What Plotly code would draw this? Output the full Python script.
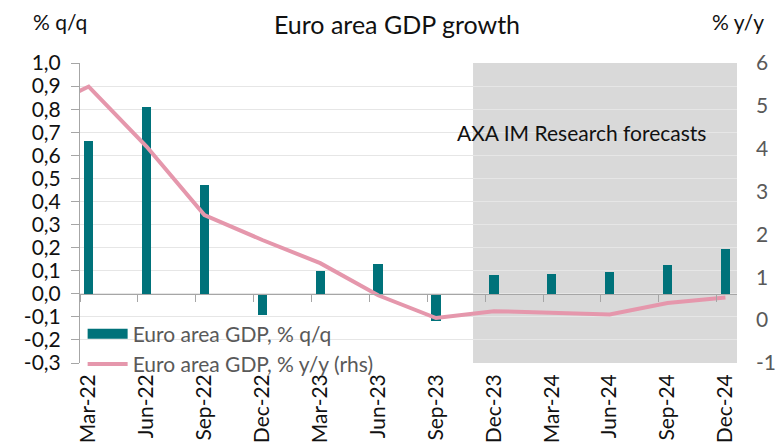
# Euro area GDP growth: q/q bars (lhs) and y/y line (rhs), forecast period shaded
import numpy as np
import plotly.graph_objects as go

quarters = ["Mar-22", "Jun-22", "Sep-22", "Dec-22", "Mar-23", "Jun-23",
            "Sep-23", "Dec-23", "Mar-24", "Jun-24", "Sep-24", "Dec-24"]
gdp_qq = [0.66, 0.81, 0.47, -0.09, 0.10, 0.13, -0.12, 0.08, 0.085, 0.095, 0.125, 0.195]

# y/y series starts one quarter earlier (Dec-21), its first segment is cut by the axis
yy_quarters = ["Dec-21"] + quarters
gdp_yy = [4.8, 5.45, 4.05, 2.45, 1.87, 1.33, 0.58, 0.05, 0.21, 0.18, 0.13, 0.40, 0.53]

forecast_start = "Dec-23"

left_ticks = [1.0, 0.9, 0.8, 0.7, 0.6, 0.5, 0.4, 0.3, 0.2, 0.1, 0.0, -0.1, -0.2, -0.3]
left_labels = ["1,0", "0,9", "0,8", "0,7", "0,6", "0,5", "0,4", "0,3", "0,2", "0,1",
               "0,0", "-0,1", "-0,2", "-0,3"]
right_ticks = [6, 5, 4, 3, 2, 1, 0, -1]
right_labels = ["6", "5", "4", "3", "2", "1", "0", "-1"]

TEAL = "#00727A"
PINK = "#E597AC"
SHADE = "#D9D9D9"
AXIS = "#A6A6A6"
FONT = "Lato"
FS = 21

SHIFT = 0.15          # points sit a little right of the quarter tick (Excel date axis)
idx = np.arange(len(quarters))
x_bar = idx + SHIFT
x_line = np.arange(-1, len(quarters)) + SHIFT
x_range = [0, 11.35]

fig = go.Figure()

fig.add_trace(go.Bar(
    x=x_bar, y=gdp_qq, width=0.16, marker_color=TEAL, marker_line_width=0,
    name="Euro area GDP, % q/q", xaxis="x", yaxis="y", showlegend=False,
    legendgroup="qq",
))
# legend entry for the bars drawn as a thick swatch (Excel-style wide rectangle)
fig.add_trace(go.Scatter(
    x=[None], y=[None], mode="lines", line=dict(color=TEAL, width=14),
    name="Euro area GDP, % q/q", legendgroup="qq", xaxis="x", yaxis="y",
))
fig.add_trace(go.Scatter(
    x=x_line, y=gdp_yy, mode="lines", line=dict(color=PINK, width=4),
    name="Euro area GDP, % y/y (rhs)", xaxis="x2", yaxis="y2",
))

# forecast shading
fs = quarters.index(forecast_start)
fig.add_shape(type="rect", xref="x", yref="paper", x0=fs - 0.21, x1=x_range[1],
              y0=0, y1=1, fillcolor=SHADE, line_width=0, layer="between")

note = dict(xref="paper", yref="paper", showarrow=False, xanchor="center", yanchor="middle",
            font=dict(family=FONT, size=FS, color="#111111"))
fig.add_annotation(text="AXA IM Research forecasts", x=0.7626, y=0.77, **note)
fig.add_annotation(text="% q/q", x=-0.03, y=1.137, **note)
fig.add_annotation(text="% y/y", x=1.0015, y=1.137, **note)

fig.update_layout(
    width=783, height=446,
    margin=dict(l=80, r=46, t=63, b=83, autoexpand=False),
    paper_bgcolor="white", plot_bgcolor="white",
    font=dict(family=FONT, size=FS, color="#111111"),
    title=dict(text="Euro area GDP growth", x=0.507, xanchor="center",
               y=0.944, yanchor="middle", yref="container",
               font=dict(family=FONT, size=25, color="#111111")),
    bargap=0,
    showlegend=True,
    legend=dict(x=0.004, y=0.165, xanchor="left", yanchor="top",
                bgcolor="rgba(0,0,0,0)", itemwidth=40, tracegroupgap=0,
                font=dict(family=FONT, size=FS, color="#595959")),
    xaxis=dict(range=x_range, tickmode="array", tickvals=x_bar, ticktext=quarters,
               tickangle=-90, ticks="", showline=False, showgrid=False, zeroline=False,
               automargin=False, ticklabelstandoff=6,
               tickfont=dict(family=FONT, size=FS, color="#111111")),
    xaxis2=dict(range=x_range, overlaying="x", anchor="free", position=0.3 / 1.3,
                side="bottom", tickmode="array", tickvals=idx, showticklabels=False,
                ticks="outside", ticklen=7, tickcolor=AXIS, showline=True, automargin=False,
                linecolor=AXIS, linewidth=1, showgrid=False, zeroline=False),
    yaxis=dict(range=[-0.3, 1.0], tickmode="array", tickvals=left_ticks, ticktext=left_labels,
               showline=True, linecolor=AXIS, ticks="outside", ticklen=8, tickcolor=AXIS,
               showgrid=True, gridcolor="#E6E6E6", zeroline=False, ticklabelstandoff=6,
               automargin=False, tickfont=dict(family=FONT, size=FS, color="#111111")),
    yaxis2=dict(range=[-1, 6], overlaying="y", side="right", anchor="x2",
                tickmode="array", tickvals=right_ticks, ticktext=right_labels,
                showline=False, ticks="", showgrid=False, zeroline=False, automargin=False,
                ticklabelstandoff=18, tickfont=dict(family=FONT, size=FS, color="#595959")),
)

# drop the browser's default 8px body margin so the figure sits at the window origin
fig.write_html("out.html", config={"displayModeBar": False},
               post_script="document.body.style.margin='0px';")
